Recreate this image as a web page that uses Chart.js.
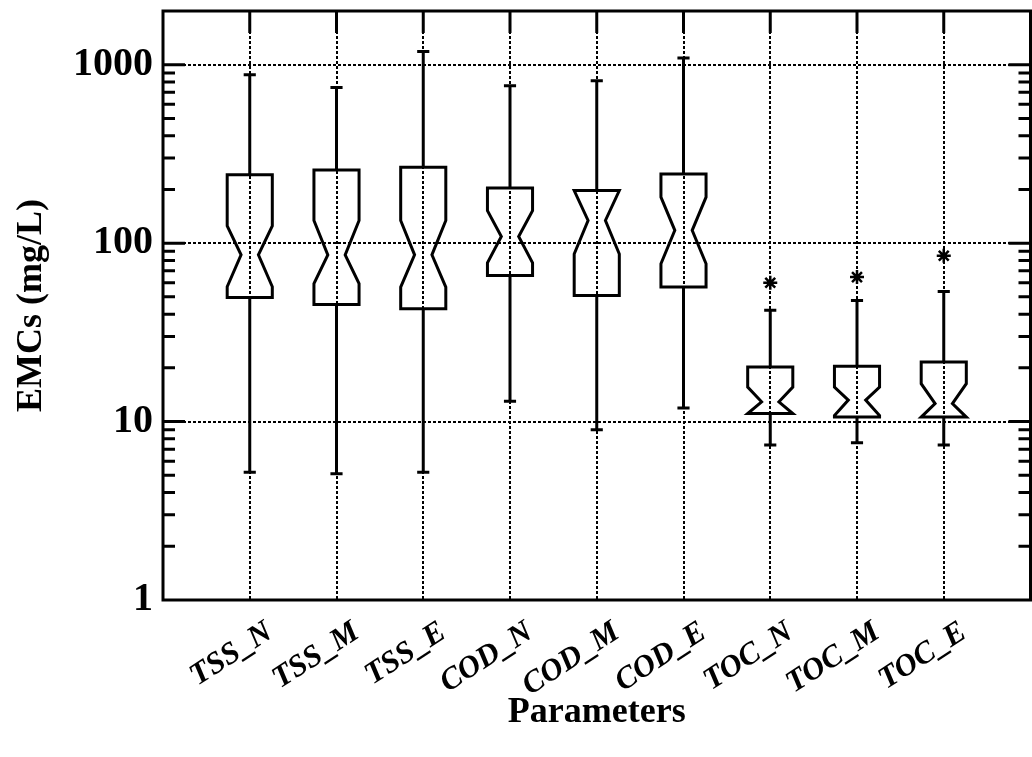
<!DOCTYPE html>
<html>
<head>
<meta charset="utf-8">
<script src="https://cdn.jsdelivr.net/npm/chart.js@4.4.1/dist/chart.umd.min.js"></script>
<style>
    html, body { margin: 0; padding: 0; background: #fff; overflow: hidden; }
    #wrap { width: 1040px; height: 757px; }
</style>
</head>
<body>
<div id="wrap"><canvas id="canvas-1" width="1040" height="757"></canvas></div>
<script>
    'use strict';

    // box plot statistics (mg/L)
    var categories = ['TSS_N', 'TSS_M', 'TSS_E', 'COD_N', 'COD_M', 'COD_E', 'TOC_N', 'TOC_M', 'TOC_E'];
    var whiskerLow = [5.2, 5.1, 5.2, 13.0, 9.0, 11.9, 7.4, 7.6, 7.4];
    var quartile1 = [49.6, 45.3, 42.9, 65.9, 50.9, 56.7, 11.1, 10.6, 10.6];
    var notchLow = [57, 59.4, 56.7, 77.6, 87, 76.6, 11.1, 10.8, 10.6];
    var medians = [86, 86, 86, 109, 134, 118, 12.9, 13.2, 12.6];
    var notchHigh = [125, 134, 134, 152, 197, 181, 15.6, 15.6, 16.3];
    var quartile3 = [242, 257, 266, 204, 197, 244, 20.2, 20.4, 21.6];
    var whiskerHigh = [878, 745, 1186, 762, 812, 1089, 42, 47.7, 53.6];
    var outlierValues = [[], [], [], [], [], [], [60], [64.5], [85]];

    var yTicks = [1, 10, 100, 1000];
    var yMinorSteps = [2, 3, 4, 5, 6, 7, 8, 9];

    var outlierPoints = [];
    for (var i = 0; i < outlierValues.length; i++) {
        for (var j = 0; j < outlierValues[i].length; j++) {
            outlierPoints.push({x: i + 1, y: outlierValues[i][j]});
        }
    }

    // no extra room for end labels, the frame is fixed
    var noPad = function (scale) {
        scale.paddingLeft = 0;
        scale.paddingRight = 0;
        scale.paddingTop = 0;
        scale.paddingBottom = 0;
    };

    var boxPlugin = {
        id: 'notchedBoxes',
        afterDatasetsDraw: function (chart) {
            var ctx = chart.ctx, xs = chart.scales.x, ys = chart.scales.y;
            var unit = xs.getPixelForValue(1) - xs.getPixelForValue(0);
            var hw = unit * 0.26, ww = unit * 0.1, cap = unit * 0.07;
            ctx.save();
            ctx.strokeStyle = '#000';
            ctx.lineWidth = 3;
            for (var i = 0; i < categories.length; i++) {
                var x = xs.getPixelForValue(i + 1);
                var yMin = ys.getPixelForValue(whiskerLow[i]);
                var yMax = ys.getPixelForValue(whiskerHigh[i]);
                var yQ1 = ys.getPixelForValue(quartile1[i]);
                var yQ3 = ys.getPixelForValue(quartile3[i]);
                var yMed = ys.getPixelForValue(medians[i]);
                var yNHi = ys.getPixelForValue(Math.min(notchHigh[i], quartile3[i]));
                var yNLo = ys.getPixelForValue(Math.max(notchLow[i], quartile1[i]));

                // whiskers + caps
                ctx.beginPath();
                ctx.moveTo(x, yQ3); ctx.lineTo(x, yMax);
                ctx.moveTo(x - cap, yMax); ctx.lineTo(x + cap, yMax);
                ctx.moveTo(x, yQ1); ctx.lineTo(x, yMin);
                ctx.moveTo(x - cap, yMin); ctx.lineTo(x + cap, yMin);
                ctx.stroke();

                // notched box
                ctx.beginPath();
                ctx.moveTo(x - hw, yQ3);
                ctx.lineTo(x + hw, yQ3);
                ctx.lineTo(x + hw, yNHi);
                ctx.lineTo(x + ww, yMed);
                ctx.lineTo(x + hw, yNLo);
                ctx.lineTo(x + hw, yQ1);
                ctx.lineTo(x - hw, yQ1);
                ctx.lineTo(x - hw, yNLo);
                ctx.lineTo(x - ww, yMed);
                ctx.lineTo(x - hw, yNHi);
                ctx.closePath();
                ctx.stroke();
            }
            ctx.restore();
        },
        afterDraw: function (chart) {
            var ctx = chart.ctx, a = chart.chartArea;
            var xs = chart.scales.x, ys = chart.scales.y;
            ctx.save();
            ctx.strokeStyle = '#000';
            ctx.lineWidth = 3;
            ctx.strokeRect(a.left, a.top, a.right - a.left, a.bottom - a.top);

            ctx.beginPath();
            // top axis stubs at the categories
            for (var i = 0; i < categories.length; i++) {
                var x = xs.getPixelForValue(i + 1);
                ctx.moveTo(x, a.top);
                ctx.lineTo(x, a.top + 22);
            }
            // inward log ticks on both sides
            for (var d = 0; d < yTicks.length; d++) {
                var base = yTicks[d];
                var p = ys.getPixelForValue(base);
                if (d > 0) {
                    ctx.moveTo(a.left, p); ctx.lineTo(a.left + 22, p);
                    ctx.moveTo(a.right, p); ctx.lineTo(a.right - 22, p);
                }
                for (var k = 0; k < yMinorSteps.length; k++) {
                    var v = base * yMinorSteps[k];
                    if (v >= ys.max) continue;
                    var q = ys.getPixelForValue(v);
                    ctx.moveTo(a.left, q); ctx.lineTo(a.left + 12, q);
                    ctx.moveTo(a.right, q); ctx.lineTo(a.right - 12, q);
                }
            }
            ctx.stroke();
            ctx.restore();
        }
    };

    var ctx = document.getElementById('canvas-1');
    var chart = new Chart(ctx, {
        type: 'scatter',
        data: {
            datasets: [{
                label: 'Outliers',
                data: outlierPoints,
                pointStyle: 'star',
                radius: 7,
                borderColor: '#000',
                backgroundColor: '#000',
                borderWidth: 2.5
            }]
        },
        options: {
            responsive: false,
            animation: false,
            layout: {padding: {left: 0, top: 11, right: 3, bottom: 0}},
            plugins: {
                legend: {display: false},
                tooltip: {enabled: false}
            },
            scales: {
                x: {
                    type: 'linear',
                    min: 0,
                    max: 10,
                    afterFit: function (scale) { scale.height = 157; noPad(scale); },
                    ticks: {
                        stepSize: 1,
                        autoSkip: false,
                        minRotation: 33,
                        maxRotation: 33,
                        labelOffset: 20,
                        padding: 14,
                        color: '#000',
                        font: {family: 'Liberation Serif', size: 31, weight: 'bold', style: 'italic'},
                        callback: function (v) { return categories[v - 1] || ''; }
                    },
                    grid: {
                        drawTicks: false,
                        lineWidth: 2,
                        color: function (c) {
                            var v = c.tick && c.tick.value;
                            return (v >= 1 && v <= 9) ? '#000' : 'rgba(0,0,0,0)';
                        }
                    },
                    border: {display: false, dash: [3, 2]},
                    title: {
                        display: true,
                        text: 'Parameters',
                        color: '#000',
                        font: {family: 'Liberation Serif', size: 36, weight: 'bold'},
                        padding: {top: 0, bottom: 23}
                    }
                },
                y: {
                    type: 'logarithmic',
                    min: 1,
                    max: 2000,
                    afterFit: function (scale) { scale.width = 163; noPad(scale); },
                    afterBuildTicks: function (scale) {
                        scale.ticks = yTicks.map(function (v) { return {value: v}; });
                    },
                    ticks: {
                        autoSkip: false,
                        padding: 10,
                        color: '#000',
                        font: {family: 'Liberation Serif', size: 40, weight: 'bold'},
                        callback: function (v) { return String(v); }
                    },
                    grid: {
                        drawTicks: false,
                        lineWidth: 2,
                        color: function (c) {
                            var v = c.tick && c.tick.value;
                            return (v > 1) ? '#000' : 'rgba(0,0,0,0)';
                        }
                    },
                    border: {display: false, dash: [3, 2]},
                    title: {
                        display: true,
                        text: 'EMCs (mg/L)',
                        color: '#000',
                        font: {family: 'Liberation Serif', size: 36, weight: 'bold'},
                        padding: {top: 10, bottom: 0}
                    }
                }
            }
        },
        plugins: [boxPlugin]
    });
</script>
</body>
</html>
